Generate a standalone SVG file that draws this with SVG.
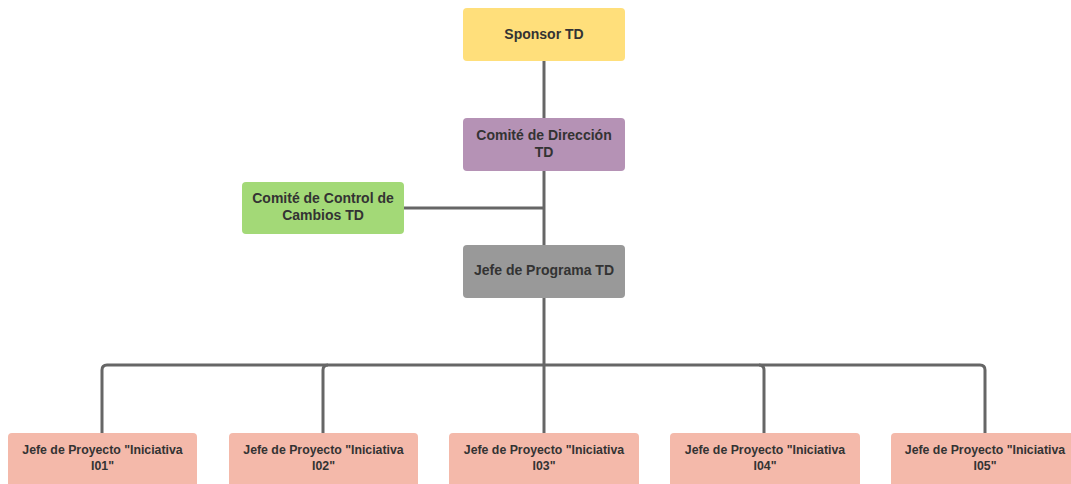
<svg xmlns="http://www.w3.org/2000/svg" width="1071" height="484" viewBox="0 0 1071 484">
<style>
text{font-family:"Liberation Sans",Arial,sans-serif;font-weight:bold;font-size:14px;fill:#333;text-anchor:middle;dominant-baseline:central}
text.s{font-size:12.3px}
.c{fill:none;stroke:#666;stroke-width:3}
</style>
<rect width="1071" height="484" fill="#fff"/>
<g id="connectors">
<path class="c" d="M544 61V118"/>
<path class="c" d="M544 171V245"/>
<path class="c" d="M404 208H544"/>
<path class="c" d="M544 298V433"/>
<path class="c" d="M102 433V370Q102 365 107 365H980Q985 365 985 370V433"/>
<path class="c" d="M323 433V370Q323 365 328 365"/>
<path class="c" d="M764 433V370Q764 365 759 365"/>
</g>
<g id="sponsor"><rect x="463" y="8" width="162" height="53" rx="4" fill="#FFDF7B"/><text x="544" y="34">Sponsor TD</text></g>
<g id="comite-direccion"><rect x="463" y="118" width="162" height="53" rx="4" fill="#B592B5"/><text x="544" y="135">Comité de Dirección</text><text x="544" y="152">TD</text></g>
<g id="comite-control"><rect x="242" y="182" width="162" height="52" rx="4" fill="#A3D977"/><text x="323" y="198">Comité de Control de</text><text x="323" y="215">Cambios TD</text></g>
<g id="jefe-programa"><rect x="463" y="245" width="162" height="53" rx="4" fill="#999999"/><text x="544" y="270">Jefe de Programa TD</text></g>
<g id="i01"><rect x="8" y="433" width="189" height="54" rx="4" fill="#F4B9AA"/><text class="s" x="102.5" y="450">Jefe de Proyecto "Iniciativa</text><text class="s" x="102.5" y="466">I01"</text></g>
<g id="i02"><rect x="229" y="433" width="189" height="54" rx="4" fill="#F4B9AA"/><text class="s" x="323.5" y="450">Jefe de Proyecto "Iniciativa</text><text class="s" x="323.5" y="466">I02"</text></g>
<g id="i03"><rect x="449" y="433" width="190" height="54" rx="4" fill="#F4B9AA"/><text class="s" x="544" y="450">Jefe de Proyecto "Iniciativa</text><text class="s" x="544" y="466">I03"</text></g>
<g id="i04"><rect x="670" y="433" width="190" height="54" rx="4" fill="#F4B9AA"/><text class="s" x="765" y="450">Jefe de Proyecto "Iniciativa</text><text class="s" x="765" y="466">I04"</text></g>
<g id="i05"><rect x="891" y="433" width="190" height="54" rx="4" fill="#F4B9AA"/><text class="s" x="985" y="450">Jefe de Proyecto "Iniciativa</text><text class="s" x="985" y="466">I05"</text></g>
</svg>
